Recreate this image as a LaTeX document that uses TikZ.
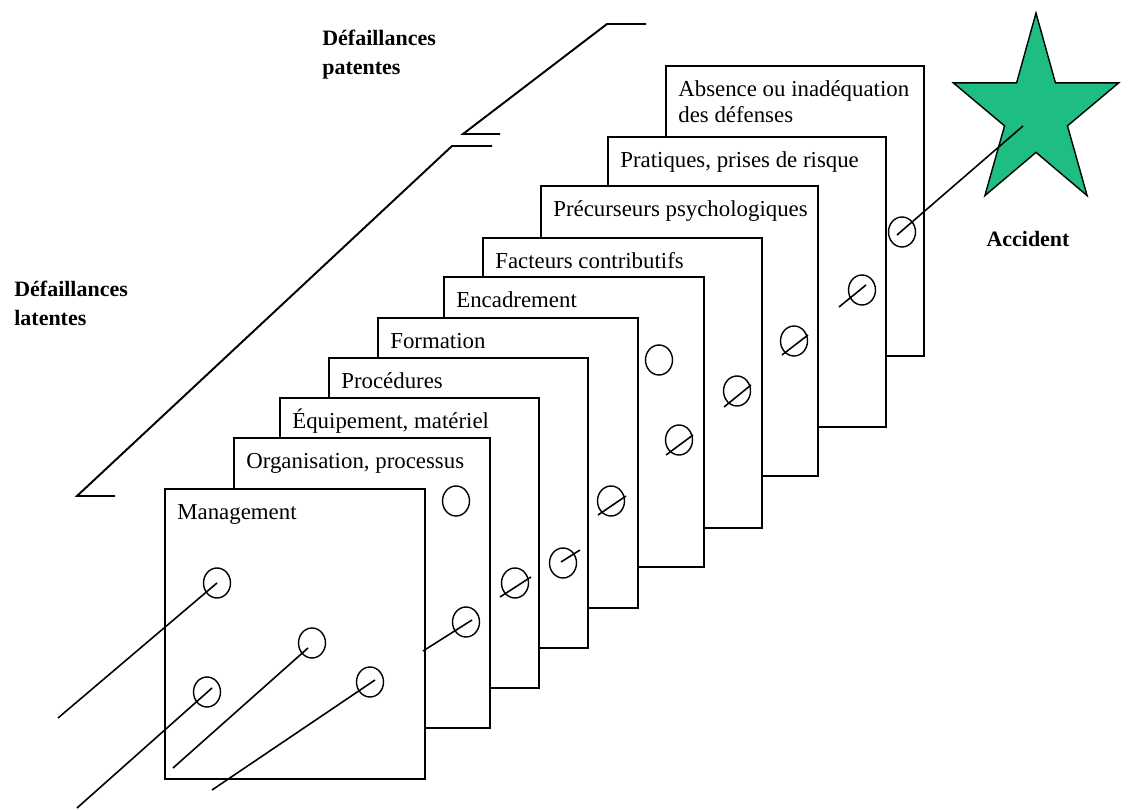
\documentclass[tikz,border=0pt]{standalone}
\usepackage{fontspec}
\setmainfont{Liberation Serif}
\usetikzlibrary{positioning,shapes.geometric,calc}
\definecolor{stargreen}{RGB}{30,190,130}

\tikzset{
  slice/.style={draw, fill=white, line width=1.1pt, anchor=north west, inner sep=0pt, minimum height=5.8cm},
  tag/.style={anchor=base west, inner sep=0pt, font=\fontsize{13}{15}\selectfont, align=left},
  head/.style={anchor=base west, inner sep=0pt, font=\fontsize{12.5}{17}\selectfont\bfseries, align=left},
  hole/.style={ellipse, draw, line width=0.8pt, minimum width=0.54cm, minimum height=0.6cm, inner sep=0pt},
  ray/.style={line width=0.9pt},
  rail/.style={line width=1.1pt},
  accident star/.style={star, star points=5, star point ratio=2.63, minimum size=3.48cm, inner sep=0pt, draw, line width=0.8pt, fill=stargreen, yscale=1.16},
}

\begin{document}
\begin{tikzpicture}[x=0.02cm, y=-0.02cm]
\useasboundingbox (0,0) rectangle (1133,810);

\coordinate (u1) at (646,24);
\coordinate (u2) at (607,24);
\coordinate (u3) at (463,134);
\coordinate (u4) at (500,134);
\draw[rail] (u1) -- (u2) -- (u3) -- (u4);
\coordinate (d1) at (492,146);
\coordinate (d2) at (452,146);
\coordinate (d3) at (77,496);
\coordinate (d4) at (115,496);
\draw[rail] (d1) -- (d2) -- (d3) -- (d4);

\foreach \n/\l/\t/\w/\b/\txt in {
  10/665/65/258/58/{Absence ou inadéquation\\des défenses},
  9/607/136/278/32/{Pratiques, prises de risque},
  8/540/185/277/32/{Précurseurs psychologiques},
  7/482/237/279/32/{Facteurs contributifs},
  6/443/276/260/32/{Encadrement},
  5/377/317/260/32/{Formation},
  4/328/357/259/32/{Procédures},
  3/279/397/259/32/{Équipement, matériel},
  2/233/437/256/32/{Organisation, processus},
  1/164/488/260/32/{Management}}
{
  \node[slice, minimum width=\w*0.02cm] (s\n) at (\l,\t) {};
  \node[tag] (t\n) at (\l+13,\t+\b) {\txt};
}

\foreach \n/\x/\y in {1/217/583, 2/207/692, 3/312/643, 4/370/682, 5/456/501,
  6/466/622, 7/515/583, 8/563/563, 9/611/501, 10/659/360, 11/679/440,
  12/737/391, 13/794/341, 14/862/290, 15/902/232}
  \node[hole] (h\n) at (\x,\y) {};

\foreach \n/\a/\b/\c/\d in {7/-15/14/16/-6, 8/-2/-1/17/-13, 9/-13/14/15/-5,
  11/-13/15/14/-5, 12/-13/16/14/-6, 13/-12/14/14/-6, 14/-23/17/4/-5}
  \draw[ray] ($(h\n.center)+(\a,\b)$) -- ($(h\n.center)+(\c,\d)$);

\node[accident star] (star) at (1036,114) {};

\coordinate (m1) at (58,718);
\coordinate (m2) at (77,808);
\coordinate (m3) at (173,768);
\coordinate (m4) at (212,790);
\coordinate (m5) at (423,651);
\draw[ray] (m1) -- (h1.center);
\draw[ray] (m2) -- ($(h2.center)+(5,-4)$);
\draw[ray] (m3) -- ($(h3.center)+(-4,5)$);
\draw[ray] (m4) -- ($(h4.center)+(5,-2)$);
\draw[ray] (m5) -- ($(h6.center)+(6,-2)$);
\draw[ray] ($(h15.center)+(-5,3)$) -- ($(star.center)+(-13,12)$);

\node[head] (latent) at (14,326) {Défaillances\\latentes};
\node[head] (patent) at (322,75) {Défaillances\\patentes};
\node[head, anchor=base] (acc) at (1028,247) {Accident};
\end{tikzpicture}
\end{document}
